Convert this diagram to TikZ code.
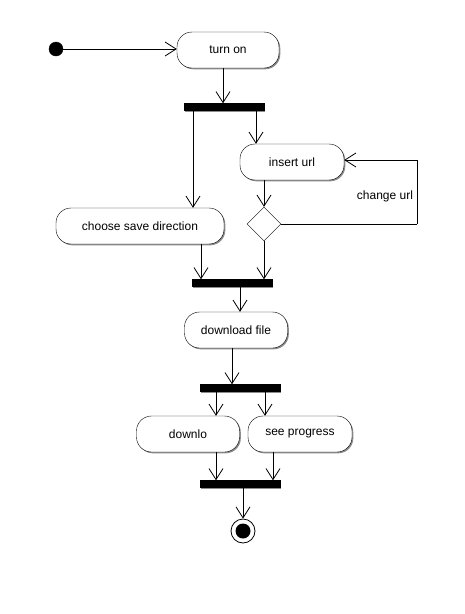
\documentclass[tikz,border=0pt]{standalone}
\usepackage{fontspec}
\setmainfont{Liberation Sans}
\usetikzlibrary{arrows.meta,shapes.geometric,shadows}
\begin{document}
\begin{tikzpicture}[x=1pt,y=-1pt,
  every node/.style={font=\fontsize{12}{14}\selectfont},
  act/.style={draw, fill=white, rounded corners=15pt, minimum height=36pt, inner sep=0pt,
    drop shadow={shadow xshift=1.3pt, shadow yshift=-1.3pt, fill=black!45, opacity=1}},
  bar/.style={draw, fill=black, minimum height=7pt, minimum width=80pt, inner sep=0pt,
    drop shadow={shadow xshift=1.3pt, shadow yshift=-1.3pt, fill=black!45, opacity=1}},
  decis/.style={draw, fill=white, diamond, minimum width=34pt, minimum height=34pt, inner sep=0pt,aspect=1},
  arr/.style={-{Straight Barb[length=11pt,width=14pt]}, line width=0.8pt},
  ln/.style={line width=0.8pt}]
\useasboundingbox (0,0) rectangle (464,614);
\node[circle, fill=black, draw, minimum size=14pt, inner sep=0pt] (start) at (56,49) {};
\node[act, minimum width=102pt] (turnon) at (228,50) {turn on};
\node[bar] (fork1) at (224,107) {};
\node[act, minimum width=104pt] (insert) at (292,162) {insert url};
\node[act, minimum width=168pt] (choose) at (140,226) {choose save direction};
\node[decis] (dec) at (264,224) {};
\node[bar] (join1) at (232,283) {};
\node[act, minimum width=103pt] (download) at (236,330) {download file};
\node[bar] (fork2) at (240,388) {};
\node[act, minimum width=103pt] (downlo) at (188,434) {downlo};
\node[act, minimum width=104pt] (seeprog) at (300,434) {see progress};
\node[bar] (join2) at (240,484) {};
\node[circle, draw, fill=white, minimum size=24pt, inner sep=0pt, line width=0.8pt] (end) at (243,531) {};
\node[circle, fill=black, minimum size=15pt, inner sep=0pt] (endin) at (end) {};
\coordinate (loopc) at (417,160);

\draw[arr] (start) -- (start -| turnon.west);
\draw[arr] ([xshift=-5pt]turnon.south) -- ([xshift=-5pt]turnon.south |- fork1.north);
\draw[arr] ([xshift=-31pt]fork1.south) -- ([xshift=-31pt]fork1.south |- choose.north);
\draw[arr] ([xshift=32pt]fork1.south) -- ([xshift=32pt]fork1.south |- insert.north);
\draw[arr] (insert.south -| dec.north) -- (dec.north);
\draw[ln] (dec.east) -- (dec.east -| loopc);
\draw[arr] (dec.east -| loopc) -- (loopc) -- (loopc -| insert.east);
\node[anchor=center] (lbl) at (385,196) {change url};
\draw[arr] ([xshift=61pt]choose.south) -- ([xshift=61pt]choose.south |- join1.north);
\draw[arr] (dec.south) -- (dec.south |- join1.north);
\draw[arr] ([xshift=8pt]join1.south) -- ([xshift=8pt]join1.south |- download.north);
\draw[arr] ([xshift=-4pt]download.south) -- ([xshift=-4pt]download.south |- fork2.north);
\draw[arr] ([xshift=-24pt]fork2.south) -- ([xshift=-24pt]fork2.south |- downlo.north);
\draw[arr] ([xshift=25pt]fork2.south) -- ([xshift=25pt]fork2.south |- seeprog.north);
\draw[arr] ([xshift=28pt]downlo.south) -- ([xshift=28pt]downlo.south |- join2.north);
\draw[arr] ([xshift=-27pt]seeprog.south) -- ([xshift=-27pt]seeprog.south |- join2.north);
\draw[arr] ([xshift=3pt]join2.south) -- ([xshift=3pt]join2.south |- end.north);
\end{tikzpicture}
\end{document}
